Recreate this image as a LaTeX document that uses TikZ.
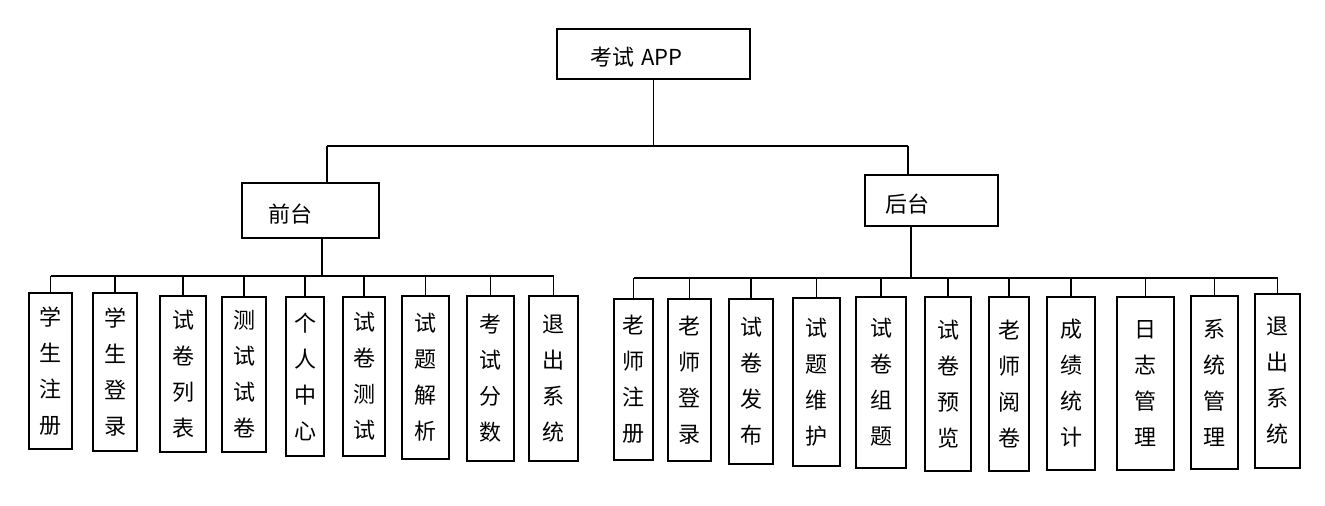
\documentclass[tikz,border=0pt]{standalone}
\usepackage{fontspec}
\newfontfamily\cjk{Noto Sans CJK SC}
\usepackage{tikz}
\usetikzlibrary{positioning,calc}

\begin{document}
\begin{tikzpicture}[
  x=0.75pt, y=-0.75pt,
  line width=0.9pt,
  hd/.style={draw, align=left, inner ysep=0pt, font=\cjk\fontsize{16.5}{18}\selectfont,
    execute at begin node={\rule{0pt}{19pt}}},
  leaf/.style={draw, align=center, inner sep=0pt, font=\cjk\fontsize{16.5}{27}\selectfont,
    execute at begin node={\rule{0pt}{21.5pt}}}
]
\useasboundingbox (0,0) rectangle (1325,506);
% head boxes
\node[hd, inner xsep=24.75pt, text width=95.25pt, minimum height=37.5pt] (app) at (653.5,54) {考试 APP};
\node[hd, inner xsep=19.5pt, text width=63.75pt, minimum height=41.25pt] (qt) at (310.5,210.5) {前台};
\node[hd, inner xsep=15pt, text width=69.75pt, minimum height=38.25pt] (ht) at (931.5,200.5) {后台};
% front leaves
\node[leaf, minimum width=43*0.75pt, minimum height=156*0.75pt] (l1) at (50.5,371) {学\\生\\注\\册};
\node[leaf, minimum width=44*0.75pt, minimum height=158*0.75pt] (l2) at (115,372) {学\\生\\登\\录};
\node[leaf, minimum width=46*0.75pt, minimum height=156*0.75pt] (l3) at (183,374) {试\\卷\\列\\表};
\node[leaf, minimum width=44*0.75pt, minimum height=155*0.75pt] (l4) at (244,374.5) {测\\试\\试\\卷};
\node[leaf, minimum width=38*0.75pt, minimum height=159*0.75pt] (l5) at (305,376.5) {个\\人\\中\\心};
\node[leaf, minimum width=42*0.75pt, minimum height=159*0.75pt] (l6) at (364,376.5) {试\\卷\\测\\试};
\node[leaf, minimum width=47*0.75pt, minimum height=163*0.75pt] (l7) at (425.5,377.5) {试\\题\\解\\析};
\node[leaf, minimum width=47*0.75pt, minimum height=165*0.75pt] (l8) at (490.5,378.5) {考\\试\\分\\数};
\node[leaf, minimum width=49*0.75pt, minimum height=165*0.75pt] (l9) at (553.5,378.5) {退\\出\\系\\统};
% back leaves
\node[leaf, minimum width=39*0.75pt, minimum height=161*0.75pt] (r1) at (633.5,379.5) {老\\师\\注\\册};
\node[leaf, minimum width=43*0.75pt, minimum height=162*0.75pt] (r2) at (689.5,380) {老\\师\\登\\录};
\node[leaf, minimum width=44*0.75pt, minimum height=165*0.75pt] (r3) at (751,381.5) {试\\卷\\发\\布};
\node[leaf, minimum width=47*0.75pt, minimum height=168*0.75pt] (r4) at (816.5,382) {试\\题\\维\\护};
\node[leaf, minimum width=50*0.75pt, minimum height=171*0.75pt] (r5) at (881,382.5) {试\\卷\\组\\题};
\node[leaf, minimum width=46*0.75pt, minimum height=174*0.75pt] (r6) at (948,384) {试\\卷\\预\\览};
\node[leaf, minimum width=40*0.75pt, minimum height=174*0.75pt] (r7) at (1009,384) {老\\师\\阅\\卷};
\node[leaf, minimum width=48*0.75pt, minimum height=173*0.75pt] (r8) at (1071,383.5) {成\\绩\\统\\计};
\node[leaf, minimum width=57*0.75pt, minimum height=173*0.75pt] (r9) at (1145.5,383.5) {日\\志\\管\\理};
\node[leaf, minimum width=47*0.75pt, minimum height=173*0.75pt] (r10) at (1214.5,382.5) {系\\统\\管\\理};
\node[leaf, minimum width=45*0.75pt, minimum height=174*0.75pt] (r11) at (1277.5,381) {退\\出\\系\\统};
% buses
\coordinate (qtin) at (327,146);
\coordinate (htin) at (908,146);
\coordinate (lbus) at (322,276);
\coordinate (rbus) at (911,278);
\draw (app.south) -- (app.south |- qtin);
\draw (qtin) -- (htin);
\draw (qtin) -- (qtin |- qt.north);
\draw (htin) -- (htin |- ht.north);
\draw (qt.south -| lbus) -- (lbus);
\draw (l1.north |- lbus) -- (l9.north |- lbus);
\draw (l1.north |- lbus) -- (l1.north);
\draw (l2.north |- lbus) -- (l2.north);
\draw (l3.north |- lbus) -- (l3.north);
\draw (l4.north |- lbus) -- (l4.north);
\draw (l5.north |- lbus) -- (l5.north);
\draw (l6.north |- lbus) -- (l6.north);
\draw (l7.north |- lbus) -- (l7.north);
\draw (l8.north |- lbus) -- (l8.north);
\draw (l9.north |- lbus) -- (l9.north);
\draw (ht.south -| rbus) -- (rbus);
\draw (r1.north |- rbus) -- (r11.north |- rbus);
\draw (r1.north |- rbus) -- (r1.north);
\draw (r2.north |- rbus) -- (r2.north);
\draw (r3.north |- rbus) -- (r3.north);
\draw (r4.north |- rbus) -- (r4.north);
\draw (r5.north |- rbus) -- (r5.north);
\draw (r6.north |- rbus) -- (r6.north);
\draw (r7.north |- rbus) -- (r7.north);
\draw (r8.north |- rbus) -- (r8.north);
\draw (r9.north |- rbus) -- (r9.north);
\draw (r10.north |- rbus) -- (r10.north);
\draw (r11.north |- rbus) -- (r11.north);
\end{tikzpicture}
\end{document}
